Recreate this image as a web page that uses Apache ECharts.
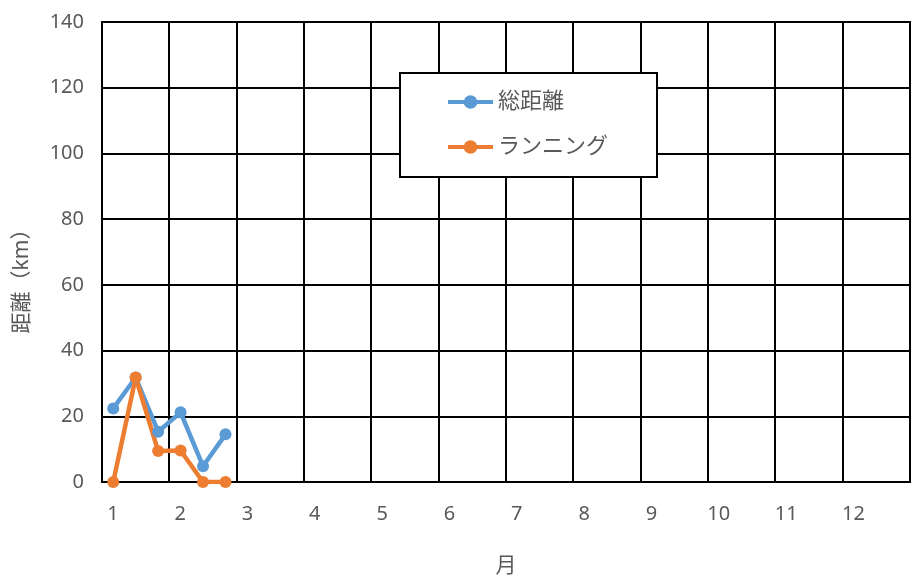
<!DOCTYPE html>
<html>
<head>
<meta charset="utf-8">
<script src="https://cdn.jsdelivr.net/npm/echarts@6/dist/echarts.min.js"></script>
<style>
  html, body { margin: 0; padding: 0; background: #fff; }
  #chart { width: 915px; height: 588px; }
</style>
</head>
<body>
<div id="chart"></div>
<script>
// 月 (1/3-month steps)
const months = [1, 1.333, 1.667, 2, 2.333, 2.667];
const totalDistance = [22.4, 31.8, 15.3, 21.2, 4.8, 14.5];
const running = [0, 31.8, 9.4, 9.6, 0, 0];
const seriesNames = ["総距離", "ランニング"];
const yTicks = [0, 20, 40, 60, 80, 100, 120, 140];

const font = "'Noto Sans', 'Noto Sans CJK JP', sans-serif";
const xOffset = 0.167;

const chart = echarts.init(document.getElementById("chart"));

const toPairs = (xs, ys) => xs.map((x, i) => [x, ys[i]]);

const option = {
  animation: false,
  textStyle: { fontFamily: font },
  grid: {
    left: 102,
    right: 5,
    top: 22,
    bottom: 106,
    show: true,
    borderColor: "#000",
    borderWidth: 2,
  },
  legend: {
    orient: "vertical",
    left: 400,
    top: 73,
    data: seriesNames,
    backgroundColor: "#fff",
    borderColor: "#000",
    borderWidth: 2,
    padding: [17, 49, 18, 46],
    itemWidth: 45,
    itemHeight: 17,
    itemGap: 21,
    itemTextGap: 8,
    lineStyle: { width: 4 },
    textStyle: { fontSize: 22, color: "#595959", lineHeight: 24, fontFamily: font },
  },
  xAxis: {
    type: "value",
    min: 1 - xOffset,
    max: 12 + 1 - xOffset,
    interval: 1,
    name: "月",
    nameLocation: "middle",
    nameGap: 74,
    nameTextStyle: { fontSize: 21, color: "#595959" },
    axisLine: { lineStyle: { color: "#000", width: 2 } },
    axisTick: { show: false },
    splitLine: { show: true, lineStyle: { color: "#000", width: 2 } },
    axisLabel: {
      fontSize: 20,
      color: "#595959",
      margin: 22,
      align: "center",
      padding: [0, 0, 0, 22],
      formatter: (v) => {
        const m = Math.round(v + xOffset);
        return m >= 1 && m <= 12 ? String(m) : "";
      },
    },
  },
  yAxis: {
    type: "value",
    min: yTicks[0],
    max: yTicks[yTicks.length - 1],
    interval: 20,
    axisLine: { show: true, lineStyle: { color: "#000", width: 2 } },
    axisTick: { show: false },
    splitLine: { show: true, lineStyle: { color: "#000", width: 2 } },
    axisLabel: { fontSize: 20, color: "#595959", margin: 18 },
  },
  graphic: [
    {
      type: "text",
      x: 22,
      y: 276,
      rotation: Math.PI / 2,
      style: {
        text: "距離（km）",
        fontSize: 21,
        fill: "#595959",
        fontFamily: font,
        align: "center",
        verticalAlign: "middle",
      },
    },
  ],
  series: [
    {
      name: seriesNames[0],
      type: "line",
      data: toPairs(months, totalDistance),
      symbol: "circle",
      symbolSize: 12,
      lineStyle: { color: "#5B9BD5", width: 4.5 },
      itemStyle: { color: "#5B9BD5" },
    },
    {
      name: seriesNames[1],
      type: "line",
      data: toPairs(months, running),
      symbol: "circle",
      symbolSize: 12,
      lineStyle: { color: "#ED7D31", width: 4.5 },
      itemStyle: { color: "#ED7D31" },
    },
  ],
};

chart.setOption(option);
</script>
</body>
</html>
